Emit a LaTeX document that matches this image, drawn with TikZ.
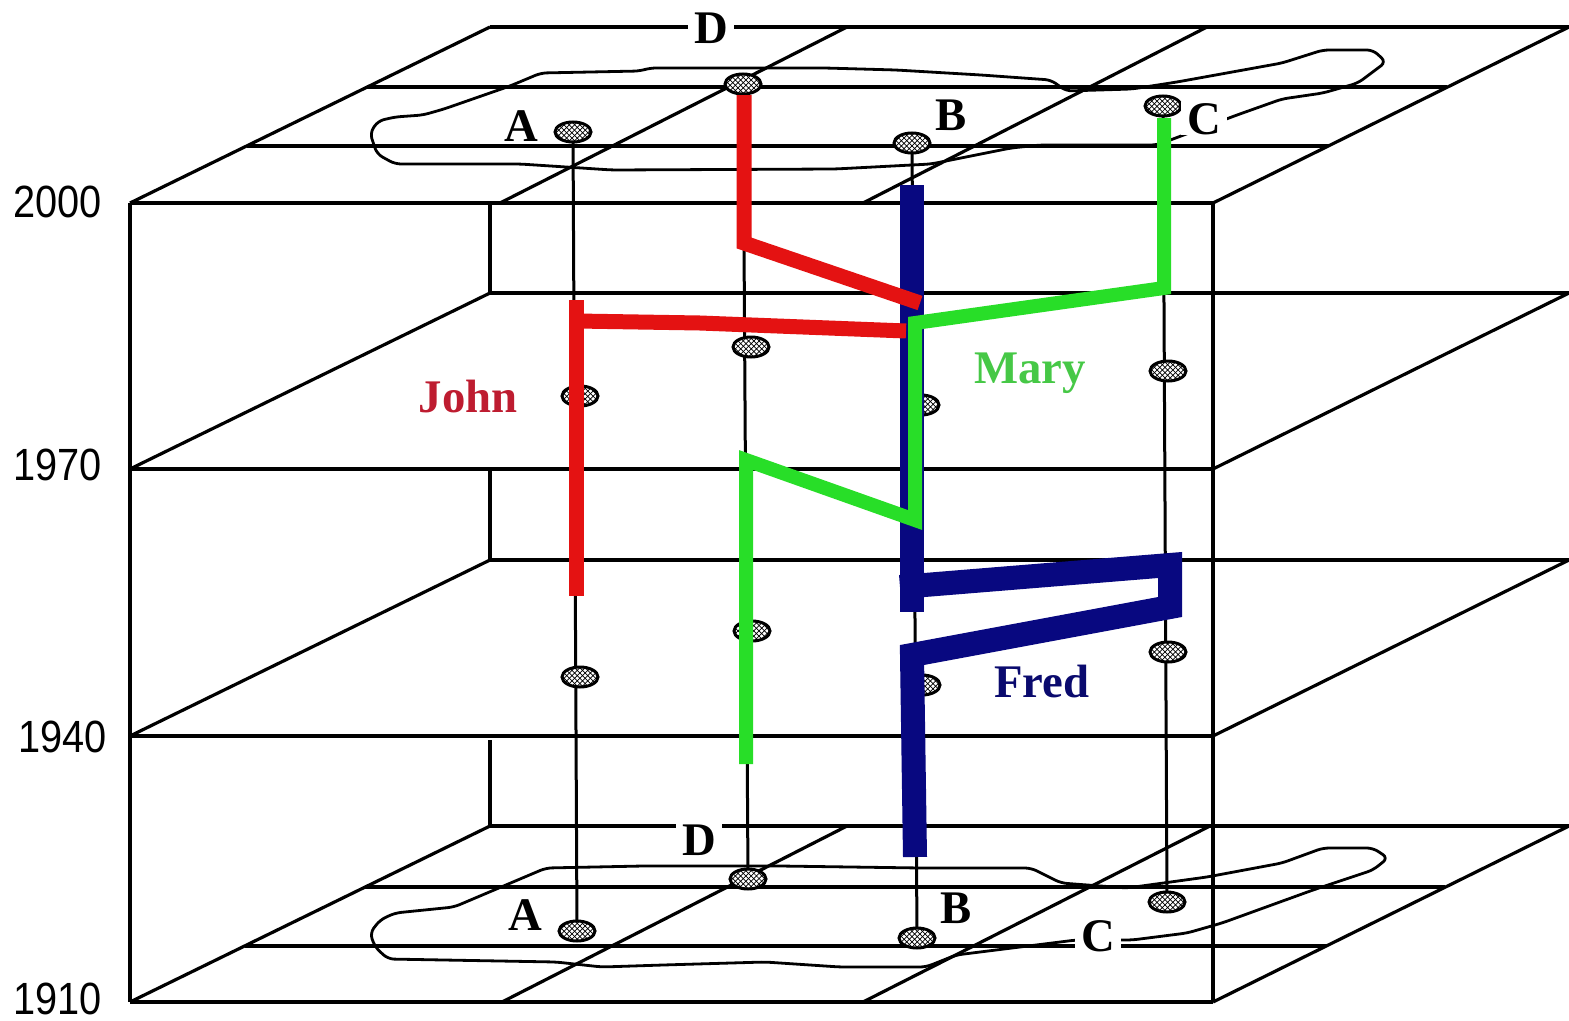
\documentclass[tikz,border=0pt]{standalone}
\usepackage{fontspec}
\usepackage{graphicx}
\setmainfont{Liberation Serif}
\newfontfamily\yearfont{Liberation Sans}
\usetikzlibrary{shapes.geometric,patterns}
\newdimen\PX \PX=0.02cm
\definecolor{jred}{RGB}{228,18,18}
\definecolor{jtext}{RGB}{190,28,48}
\definecolor{mgreen}{RGB}{40,222,40}
\definecolor{mtext}{RGB}{70,200,70}
\definecolor{fblue}{RGB}{8,8,128}
\definecolor{ftext}{RGB}{10,10,110}
\begin{document}
\begin{tikzpicture}[x=0.02cm,y=-0.02cm,
  frm/.style={line width=3.2\PX,black},
  thread/.style={line width=3\PX,black},
  blob/.style={line width=2.8\PX,black,rounded corners=6\PX},
  locmark/.style={ellipse,draw=black,line width=3\PX,fill=white,minimum width=36\PX,minimum height=20\PX,inner sep=0pt,postaction={pattern=crosshatch,pattern color=black}},
  lbl/.style={font=\bfseries\fontsize{26.6}{30}\selectfont,fill=white,inner xsep=6\PX,inner ysep=1\PX,anchor=base},
  yr/.style={font=\yearfont\fontsize{25.7}{30}\selectfont,anchor=base east,inner sep=0pt},
  pname/.style={font=\bfseries\fontsize{26.6}{30}\selectfont,anchor=base,inner sep=0pt},
  john/.style={line width=15\PX,draw=jred,line join=miter},
  mary/.style={line width=14\PX,draw=mgreen,line join=miter},
  fred/.style={line width=24\PX,draw=fblue,line join=miter}
]
\useasboundingbox[fill=white] (0,0) rectangle (1569,1021);

% ---- top plane (2000)
\draw[frm] (130,203) -- (1213,203);
\draw[frm] (490,27) -- (1569,27);
\draw[frm] (367,87) -- (1447,87);
\draw[frm] (247,146) -- (1328,146);
\draw[frm] (130,203) -- (490,27);
\draw[frm] (500,203) -- (847,27);
\draw[frm] (863,203) -- (1207,27);
\draw[frm] (1213,203) -- (1569,27);
% ---- bottom plane (1910)
\draw[frm] (130,1002) -- (1213,1002);
\draw[frm] (490,826) -- (1569,826);
\draw[frm] (365,887) -- (1445,887);
\draw[frm] (245,946) -- (1326,946);
\draw[frm] (130,1002) -- (490,826);
\draw[frm] (502,1002) -- (847,826);
\draw[frm] (863,1002) -- (1210,826);
\draw[frm] (1213,1002) -- (1569,826);
% ---- front face
\draw[frm] (130,203) -- (130,1002);
\draw[frm] (1213,203) -- (1213,1002);
\draw[frm] (130,469) -- (1213,469);
\draw[frm] (130,736) -- (1213,736);
% ---- back parts
\draw[frm] (490,203) -- (490,293) -- (1569,293);
\draw[frm] (490,469) -- (490,560) -- (1569,560);
\draw[frm] (490,740) -- (490,826);
\draw[frm] (130,469) -- (490,293);
\draw[frm] (130,736) -- (490,560);
\draw[frm] (1213,469) -- (1569,293);
\draw[frm] (1213,736) -- (1569,560);

% ---- region outlines
\draw[blob] (370,133) -- (378,121) -- (395,117) -- (423,115) -- (444,109) -- (510,86) -- (541,73) -- (640,71) -- (650,68) -- (825,68) -- (896,70) -- (981,75) -- (1051,80) -- (1066,91) -- (1132,89) -- (1177,82) -- (1282,63) -- (1323,50) -- (1373,50) -- (1386,62) -- (1358,83) -- (1323,93) -- (1282,99) -- (1237,115) -- (1157,145) -- (1040,145) -- (1011,148) -- (931,164) -- (835,169) -- (612,170) -- (520,164) -- (395,164) -- (377,154) -- cycle;
\draw[blob] (370,933) -- (380,920) -- (395,913) -- (454,907) -- (546,868) -- (643,866) -- (780,866) -- (921,868) -- (1031,868) -- (1061,883) -- (1127,888) -- (1207,877) -- (1282,863) -- (1323,848) -- (1373,848) -- (1388,858) -- (1373,870) -- (1313,890) -- (1222,923) -- (1187,933) -- (1132,940) -- (1076,940) -- (996,950) -- (956,955) -- (926,967) -- (840,967) -- (765,962) -- (663,965) -- (602,967) -- (556,962) -- (388,959) -- (375,947) -- cycle;

% ---- location positions
\coordinate (A0) at (573,132); \coordinate (A1) at (580,396); \coordinate (A2) at (580,677); \coordinate (A3) at (577,931);
\coordinate (D0) at (743,84);  \coordinate (D1) at (751,347); \coordinate (D2) at (752,631); \coordinate (D3) at (748,879);
\coordinate (B0) at (912,143); \coordinate (B1) at (921,405); \coordinate (B2) at (922,685); \coordinate (B3) at (917,938);
\coordinate (C0) at (1163,106); \coordinate (C1) at (1168,371); \coordinate (C2) at (1168,652); \coordinate (C3) at (1167,902);

\draw[thread] (A0) -- (A3);
\draw[thread] (D0) -- (D3);
\draw[thread] (B0) -- (B3);
\draw[thread] (C0) -- (C3);

\foreach \p in {A0,A1,A2,A3,D0,D1,D2,D3,B0,B1,B2,B3,C0,C1,C2,C3}
  \node[locmark] (m\p) at (\p) {};

% ---- Fred
\draw[fred] (912,185) -- (912,612);
\draw[fred] (900,587) -- (1170,565) -- (1170,607) -- (912,655) -- (915,857);
% ---- John
\draw[john] (744,95) -- (744,243) -- (920,303);
\draw[john] (576,300) -- (576,596);
\draw[john] (577,321) -- (700,323) -- (906,331);
% ---- Mary
\draw[mary] (1164,118) -- (1164,288) -- (915,323) -- (915,520) -- (746,460) -- (746,764);

% ---- letters
\node[lbl] (lD0) at (711,43) {D};
\node[lbl] (lA0) at (521,141) {A};
\node[lbl] (lB0) at (951,130) {B};
\node[lbl] (lC0) at (1204,134) {C};
\node[lbl] (lD3) at (699,855) {D};
\node[lbl] (lA3) at (525,930) {A};
\node[lbl] (lB3) at (956,923) {B};
\node[lbl] (lC3) at (1098,951) {C};

% ---- names
\node[pname,text=jtext] (john) at (468,412) {John};
\node[pname,text=mtext] (mary) at (1030,383) {Mary};
\node[pname,text=ftext] (fred) at (1042,697) {Fred};

% ---- years
\node[yr] (y2000) at (102,217) {\scalebox{0.88}[1]{2000}};
\node[yr] (y1970) at (102,480) {\scalebox{0.88}[1]{1970}};
\node[yr] (y1940) at (107,752) {\scalebox{0.88}[1]{1940}};
\node[yr] (y1910) at (102,1014) {\scalebox{0.88}[1]{1910}};
\end{tikzpicture}
\end{document}
